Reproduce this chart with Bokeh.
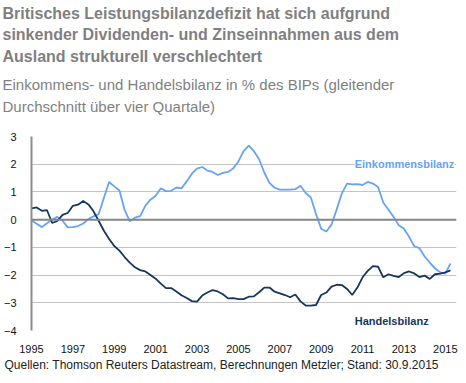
from bokeh.plotting import figure
from bokeh.models import Label, Span, FixedTicker, ColumnDataSource
from bokeh.embed import file_html
from bokeh.resources import INLINE

# ---- data (quarterly, 1995Q1 .. 2015Q2) ----
start_year = 1995
handelsbilanz = [
    0.41, 0.44, 0.32, 0.34, -0.12, -0.05, 0.17, 0.24, 0.50, 0.54,
    0.67, 0.55, 0.30, -0.05, -0.40, -0.70, -0.95, -1.12, -1.35, -1.55,
    -1.72, -1.82, -1.87, -2.00, -2.13, -2.31, -2.47, -2.47, -2.59, -2.73,
    -2.83, -2.94, -2.96, -2.74, -2.63, -2.54, -2.59, -2.69, -2.84, -2.83,
    -2.87, -2.87, -2.78, -2.77, -2.62, -2.45, -2.45, -2.60, -2.66, -2.72,
    -2.80, -2.70, -2.95, -3.10, -3.10, -3.08, -2.72, -2.63, -2.42, -2.35,
    -2.36, -2.50, -2.72, -2.45, -2.08, -1.85, -1.68, -1.70, -2.08, -1.97,
    -2.03, -2.07, -1.93, -1.87, -1.94, -2.07, -2.02, -2.14, -1.97, -1.95,
    -1.90, -1.83,
]
einkommensbilanz = [
    -0.03, -0.15, -0.27, -0.13, 0.00, 0.10, -0.04, -0.28, -0.27, -0.23,
    -0.14, 0.02, 0.12, 0.20, 0.79, 1.36, 1.20, 1.05, 0.35, -0.06,
    0.07, 0.13, 0.50, 0.72, 0.86, 1.13, 1.03, 1.04, 1.16, 1.13,
    1.38, 1.66, 1.84, 1.90, 1.77, 1.72, 1.61, 1.69, 1.72, 1.85,
    2.10, 2.47, 2.67, 2.47, 2.18, 1.70, 1.33, 1.15, 1.08, 1.08,
    1.08, 1.10, 1.22, 0.96, 0.80, 0.20, -0.33, -0.43, -0.18, 0.37,
    0.95, 1.30, 1.27, 1.28, 1.25, 1.36, 1.30, 1.18, 0.62, 0.36,
    0.10, -0.20, -0.33, -0.62, -0.96, -1.03, -1.33, -1.55, -1.76, -1.90,
    -1.95, -1.58,
]
x_ticks = [1995, 1997, 1999, 2001, 2003, 2005, 2007, 2009, 2011, 2013, 2015]
y_ticks = [-4, -3, -2, -1, 0, 1, 2, 3]

title_lines = [
    "Britisches Leistungsbilanzdefizit hat sich aufgrund",
    "sinkender Dividenden- und Zinseinnahmen aus dem",
    "Ausland strukturell verschlechtert",
]
subtitle_lines = [
    "Einkommens- und Handelsbilanz in % des BIPs (gleitender",
    "Durchschnitt über vier Quartale)",
]
source_text = "Quellen: Thomson Reuters Datastream, Berechnungen Metzler; Stand: 30.9.2015"
label_eink = "Einkommensbilanz"
label_hand = "Handelsbilanz"

t = [start_year + i / 4 for i in range(len(handelsbilanz))]
src = ColumnDataSource(dict(t=t, h=handelsbilanz, e=einkommensbilanz))

LIGHT = "#66a3f5"
DARK = "#17365d"
GREY_TXT = "#7f7f7f"
FONT = "Liberation Sans"
W = 450


def blank(h):
    f = figure(width=W, height=h, x_range=(0, W), y_range=(h, 0),
               x_axis_location=None, y_axis_location=None,
               output_backend="svg", toolbar_location=None, min_border=0)
    f.grid.grid_line_color = None
    f.outline_line_color = None
    return f


# ---- header ----
head = blank(120)
for line, yy in zip(title_lines, [12.7, 34.4, 56.0]):
    head.add_layout(Label(x=2, y=yy, text=line, text_color=GREY_TXT, text_font=FONT,
                          text_font_style="bold", text_font_size="16px",
                          text_baseline="alphabetic"))
for line, yy in zip(subtitle_lines, [84.0, 105.5]):
    head.add_layout(Label(x=2, y=yy, text=line, text_color=GREY_TXT, text_font=FONT,
                          text_font_size="15px", text_baseline="alphabetic"))

# ---- main chart ----
p = figure(width=458, height=235, x_range=(1995, 2015.54), y_range=(-4, 3),
           output_backend="svg", toolbar_location=None,
           min_border_left=22, min_border_right=2, min_border_top=16, min_border_bottom=21)
p.outline_line_color = None
p.xgrid.grid_line_color = None
p.ygrid.grid_line_color = "#c4c4c4"
p.ygrid.grid_line_width = 1

p.xaxis.ticker = FixedTicker(ticks=x_ticks)
p.yaxis.ticker = FixedTicker(ticks=y_ticks)
for ax in (p.xaxis, p.yaxis):
    ax.major_tick_line_color = None
    ax.minor_tick_line_color = None
    ax.major_label_text_font = FONT
    ax.major_label_text_font_size = "11px"
    ax.major_label_text_color = "#111111"
p.xaxis.axis_line_color = None
p.xaxis.major_label_standoff = 8
p.yaxis.axis_line_color = "#8c8c8c"
p.yaxis.axis_line_width = 2
p.yaxis.major_label_standoff = 9

p.add_layout(Span(location=0, dimension="width", line_color="#858585", line_width=2))

p.line("t", "e", source=src, line_color=LIGHT, line_width=1.8)
p.line("t", "h", source=src, line_color=DARK, line_width=1.8)

p.add_layout(Label(x=2010.62, y=2.0, text=label_eink, text_color=LIGHT,
                   text_font=FONT, text_font_style="bold", text_font_size="11px",
                   text_baseline="middle", background_fill_color="white"))
p.add_layout(Label(x=2010.62, y=-3.64, text=label_hand, text_color=DARK,
                   text_font=FONT, text_font_style="bold", text_font_size="11px",
                   text_baseline="middle"))

# ---- footer ----
foot = blank(20)
foot.add_layout(Label(x=4, y=9, text=source_text, text_color="#222222",
                      text_font=FONT, text_font_size="12px", text_baseline="alphabetic"))

open("out.html", "w").write(file_html([head, p, foot], INLINE))
